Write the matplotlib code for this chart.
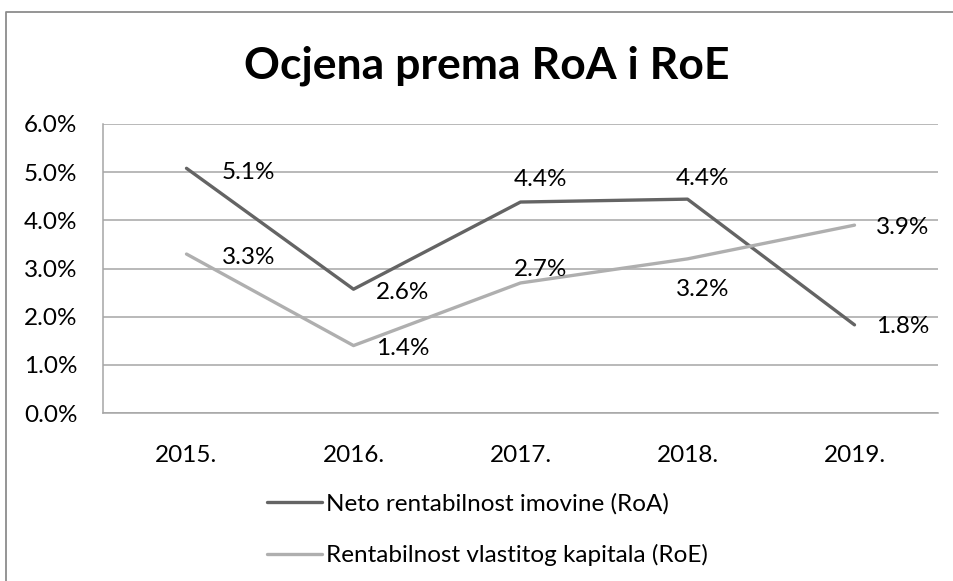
import matplotlib
matplotlib.use("Agg")
import matplotlib.pyplot as plt
from matplotlib.lines import Line2D
from matplotlib.ticker import FuncFormatter, MultipleLocator

plt.rcParams['font.family'] = ['Lato', 'DejaVu Sans']

years = ["2015.", "2016.", "2017.", "2018.", "2019."]
roa = [5.08, 2.57, 4.38, 4.44, 1.83]
roe = [3.3, 1.4, 2.7, 3.2, 3.9]
roa_labels = ["5.1%", "2.6%", "4.4%", "4.4%", "1.8%"]
roe_labels = ["3.3%", "1.4%", "2.7%", "3.2%", "3.9%"]
series_names = ["Neto rentabilnost imovine (RoA)", "Rentabilnost vlastitog kapitala (RoE)"]
title = "Ocjena prema RoA i RoE"

# label offsets in pixels (style)
roa_off = [(62, -4), (49, -3), (20, 23), (15, 21), (48, -2)]
roe_off = [(62, -3), (49, -3), (20, 13), (15, -31), (48, -2)]

W, H = 954, 581
fig = plt.figure(figsize=(W / 100, H / 100), dpi=100)
ax = fig.add_axes([103 / W, 1 - 413 / H, (938 - 103) / W, (413 - 124) / H])

x = list(range(len(years)))
c_roa = "#646464"
c_roe = "#afafaf"
l1, = ax.plot(x, roa, color=c_roa, lw=2.4, solid_capstyle='round', label=series_names[0], zorder=3)
l2, = ax.plot(x, roe, color=c_roe, lw=2.4, solid_capstyle='round', label=series_names[1], zorder=3)

fs = 17.5
for xi, v, t, o in zip(x, roa, roa_labels, roa_off):
    ax.annotate(t, (xi, v), xytext=o, textcoords='offset pixels', ha='center', va='center', fontsize=fs, color='black', zorder=4)
for xi, v, t, o in zip(x, roe, roe_labels, roe_off):
    ax.annotate(t, (xi, v), xytext=o, textcoords='offset pixels', ha='center', va='center', fontsize=fs, color='black', zorder=4)

ax.set_xlim(-0.5, len(years) - 0.5)
ax.set_ylim(0, 6)
ax.yaxis.set_major_locator(MultipleLocator(1))
ax.yaxis.set_major_formatter(FuncFormatter(lambda v, p: f"{v:.1f}%"))
ax.set_xticks(x)
ax.set_xticklabels(years)
ax.tick_params(axis='both', length=0, labelsize=fs, colors='black')
ax.tick_params(axis='y', pad=18.5)
ax.tick_params(axis='x', pad=23)
ax.grid(axis='y', color='#a6a6a6', lw=1.1)
ax.set_axisbelow(True)
for s in ['top', 'right']:
    ax.spines[s].set_visible(False)
for s in ['left', 'bottom']:
    ax.spines[s].set_color('#a6a6a6')
    ax.spines[s].set_linewidth(1.1)

fig.text(487 / W, 1 - 66 / H, title, ha='center', va='center', fontsize=32, fontweight='bold')

leg = fig.legend(handles=[l1, l2], loc='upper left', bbox_to_anchor=(267 / W, 1 - 493 / H),
                 frameon=False, fontsize=fs, handlelength=2.26, handletextpad=0.16,
                 labelspacing=1.21, borderaxespad=0, borderpad=0)

# outer chart frame
fig.add_artist(Line2D([6 / W, 6 / W, 1], [0, 1 - 12 / H, 1 - 12 / H], transform=fig.transFigure,
                      color='#8c8c8c', lw=1.3))

fig.savefig("out.png", dpi=100)
